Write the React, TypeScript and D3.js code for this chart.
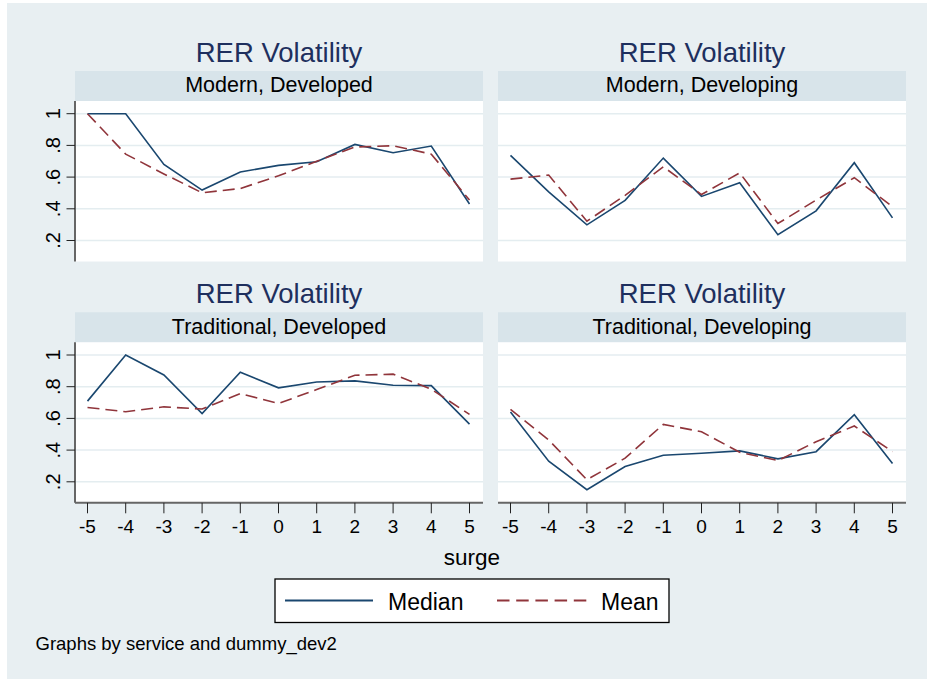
import * as d3 from "d3";

// surge values on the x axis
const surge = [-5, -4, -3, -2, -1, 0, 1, 2, 3, 4, 5];
const yTicks = [0.2, 0.4, 0.6, 0.8, 1];
const yTickLabels = [".2", ".4", ".6", ".8", "1"];

const panelNames = [
  "Modern, Developed",
  "Modern, Developing",
  "Traditional, Developed",
  "Traditional, Developing",
];

const medianModernDeveloped = [1.0, 1.0, 0.68, 0.518, 0.632, 0.674, 0.697, 0.806, 0.754, 0.796, 0.43];
const meanModernDeveloped = [1.0, 0.745, 0.62, 0.501, 0.528, 0.608, 0.7, 0.79, 0.798, 0.745, 0.455];
const medianModernDeveloping = [0.737, 0.507, 0.299, 0.453, 0.72, 0.478, 0.564, 0.236, 0.387, 0.691, 0.343];
const meanModernDeveloping = [0.587, 0.613, 0.322, 0.485, 0.665, 0.49, 0.627, 0.307, 0.455, 0.596, 0.413];
const medianTraditionalDeveloped = [0.709, 1.0, 0.874, 0.631, 0.891, 0.793, 0.83, 0.837, 0.809, 0.807, 0.564];
const meanTraditionalDeveloped = [0.669, 0.642, 0.673, 0.659, 0.757, 0.694, 0.782, 0.872, 0.879, 0.784, 0.625];
const medianTraditionalDeveloping = [0.64, 0.33, 0.15, 0.296, 0.368, 0.38, 0.395, 0.345, 0.39, 0.623, 0.315];
const meanTraditionalDeveloping = [0.657, 0.464, 0.213, 0.349, 0.562, 0.516, 0.386, 0.334, 0.453, 0.552, 0.39];

const medians = [medianModernDeveloped, medianModernDeveloping, medianTraditionalDeveloped, medianTraditionalDeveloping];
const means = [meanModernDeveloped, meanModernDeveloping, meanTraditionalDeveloped, meanTraditionalDeveloping];

const W = 927;
const H = 679;
const FONT = "'Liberation Sans', Arial, Helvetica, sans-serif";
const NAVY = "#1a476f";
const MAROON = "#90353b";
const BG = "#e8eff2";
const STRIP = "#d8e4ea";
const GRID = "#e4edf0";

const colX = [75, 498];
const panelW = 408;
const rowTop = [71, 312.3];
const stripH = 30;
const plotH = 160.5;

function Panel({ i }: { i: number }) {
  const col = i % 2;
  const row = Math.floor(i / 2);
  const x0 = colX[col];
  const top = rowTop[row];
  const plotTop = top + stripH;
  const plotBottom = plotTop + plotH;
  const x = d3.scaleLinear().domain([-5, 5]).range([x0 + 12.5, x0 + panelW - 13.5]);
  const y = d3.scaleLinear().domain([0.2, 1]).range([plotTop + 139.5, plotTop + 12.7]);
  const line = d3
    .line<number>()
    .x((_, k) => x(surge[k]))
    .y((d) => y(d));
  const cx = x0 + panelW / 2;
  return (
    <g>
      <text x={cx} y={top - 9.3} textAnchor="middle" fontSize={27.5} fill="#1e2f5e">
        RER Volatility
      </text>
      <rect x={x0} y={top} width={panelW} height={stripH} fill={STRIP} />
      <text x={cx} y={top + 21.3} textAnchor="middle" fontSize={21.5} fill="#000">
        {panelNames[i]}
      </text>
      <rect x={x0} y={plotTop} width={panelW} height={plotH} fill="#fff" />
      {yTicks.map((t) => (
        <line key={t} x1={x0} x2={x0 + panelW} y1={y(t)} y2={y(t)} stroke={GRID} strokeWidth={1.5} />
      ))}
      <path d={line(medians[i]) ?? ""} fill="none" stroke={NAVY} strokeWidth={1.6} />
      <path d={line(means[i]) ?? ""} fill="none" stroke={MAROON} strokeWidth={1.6} strokeDasharray="12,6" />
      {col === 0 && (
        <g>
          <line x1={x0} x2={x0} y1={plotTop} y2={plotBottom} stroke="#666" strokeWidth={2} />
          {yTicks.map((t, k) => (
            <g key={t}>
              <line x1={x0 - 8.5} x2={x0} y1={y(t)} y2={y(t)} stroke="#222" strokeWidth={1} />
              <text
                transform={`translate(${x0 - 15},${y(t)}) rotate(-90)`}
                textAnchor="middle"
                fontSize={20}
                fill="#000"
              >
                {yTickLabels[k]}
              </text>
            </g>
          ))}
        </g>
      )}
      {row === 1 && (
        <g>
          <line x1={x0} x2={x0 + panelW} y1={plotBottom} y2={plotBottom} stroke="#666" strokeWidth={2} />
          {surge.map((s) => (
            <g key={s}>
              <line x1={x(s)} x2={x(s)} y1={plotBottom} y2={plotBottom + 10.5} stroke="#222" strokeWidth={1} />
              <text x={x(s)} y={plotBottom + 30.5} textAnchor="middle" fontSize={19} fill="#000">
                {s}
              </text>
            </g>
          ))}
        </g>
      )}
    </g>
  );
}

export default function App() {
  return (
    <div style={{ position: "absolute", left: 0, top: 0, background: "#fff" }}>
      <svg width={W} height={H} viewBox={`0 0 ${W} ${H}`} fontFamily={FONT} style={{ display: "block" }}>
        <rect x={0} y={0} width={W} height={H} fill="#fff" />
        <rect x={7} y={3} width={W - 7} height={H - 3} fill={BG} />
        {panelNames.map((_, i) => (
          <Panel key={i} i={i} />
        ))}
        <text x={472} y={565} textAnchor="middle" fontSize={22.5} fill="#000">
          surge
        </text>
        <rect x={275} y={579} width={394} height={43.5} fill="#fff" stroke="#000" strokeWidth={1.3} />
        <line x1={285} x2={373} y1={600.5} y2={600.5} stroke={NAVY} strokeWidth={1.8} />
        <text x={388} y={609.5} fontSize={23} fill="#000">
          Median
        </text>
        <line x1={497} x2={587.5} y1={600.5} y2={600.5} stroke={MAROON} strokeWidth={1.8} strokeDasharray="12.5,6.7" />
        <text x={601} y={609.5} fontSize={23} fill="#000">
          Mean
        </text>
        <text x={35.5} y={650} fontSize={18.5} fill="#000">
          Graphs by service and dummy_dev2
        </text>
      </svg>
    </div>
  );
}
